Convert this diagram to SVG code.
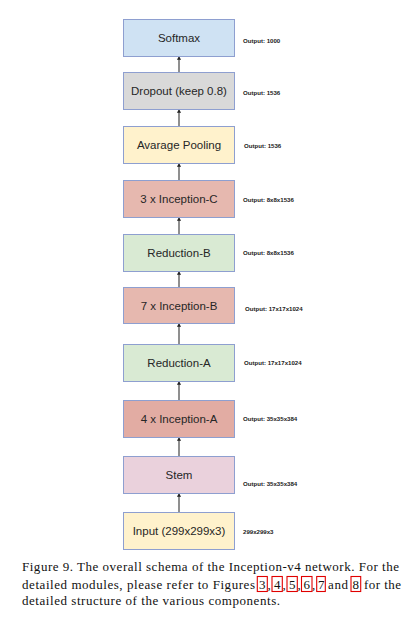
<svg xmlns="http://www.w3.org/2000/svg" width="409" height="618" viewBox="0 0 409 618">
<defs>
<marker id="ah" viewBox="0 0 6 8" refX="6" refY="4" markerWidth="3.2" markerHeight="4.2" orient="auto" markerUnits="userSpaceOnUse">
<path d="M0,0 L6,4 L0,8 z" fill="#222"/>
</marker>
<style>
.box{stroke:#8e9fd0;stroke-width:1}
.lbl{font-family:"Liberation Sans",Arial,sans-serif;font-size:11.5px;fill:#262626;text-anchor:middle}
.out{font-family:"Liberation Sans",Arial,sans-serif;font-size:6.1px;font-weight:bold;fill:#1a1a1a}
.conn{stroke:#333;stroke-width:1.1;fill:none;marker-end:url(#ah)}
.cap{font-family:"Liberation Serif","Times New Roman",serif;font-size:13px;fill:#111}
.ref{fill:none;stroke:#e00000;stroke-width:1.1}
</style>
</defs>
<rect width="409" height="618" fill="#fff"/>
<g id="connectors">
<path class="conn" d="M179,72 V56.5"/>
<path class="conn" d="M179,126 V109.5"/>
<path class="conn" d="M179,180 V163.5"/>
<path class="conn" d="M179,234 V217.5"/>
<path class="conn" d="M179,287 V271.5"/>
<path class="conn" d="M179,344 V323.5"/>
<path class="conn" d="M179,400 V381.5"/>
<path class="conn" d="M179,456 V437.5"/>
<path class="conn" d="M179,512 V493.5"/>
</g>
<g id="softmax"><rect class="box" x="123.5" y="19.5" width="111" height="37" fill="#cfe2f3"/><text class="lbl" x="179" y="42">Softmax</text><text class="out" x="243" y="43">Output: 1000</text></g>
<g id="dropout"><rect class="box" x="123.5" y="72.5" width="111" height="37" fill="#d9d9d9"/><text class="lbl" x="179" y="95">Dropout (keep 0.8)</text><text class="out" x="243" y="95">Output: 1536</text></g>
<g id="pooling"><rect class="box" x="123.5" y="126.5" width="111" height="37" fill="#fff2cc"/><text class="lbl" x="179" y="149">Avarage Pooling</text><text class="out" x="244" y="148">Output: 1536</text></g>
<g id="inception-c"><rect class="box" x="123.5" y="180.5" width="111" height="37" fill="#e6b8af"/><text class="lbl" x="179" y="203">3 x Inception-C</text><text class="out" x="243" y="202">Output: 8x8x1536</text></g>
<g id="reduction-b"><rect class="box" x="123.5" y="234.5" width="111" height="37" fill="#d9ead3"/><text class="lbl" x="179" y="257">Reduction-B</text><text class="out" x="243" y="255">Output: 8x8x1536</text></g>
<g id="inception-b"><rect class="box" x="123.5" y="287.5" width="111" height="36" fill="#e6b8af"/><text class="lbl" x="179" y="310">7 x Inception-B</text><text class="out" x="245" y="311">Output: 17x17x1024</text></g>
<g id="reduction-a"><rect class="box" x="123.5" y="344.5" width="111" height="37" fill="#d9ead3"/><text class="lbl" x="179" y="367">Reduction-A</text><text class="out" x="244" y="365">Output: 17x17x1024</text></g>
<g id="inception-a"><rect class="box" x="123.5" y="400.5" width="111" height="37" fill="#e2aca3"/><text class="lbl" x="179" y="423">4 x Inception-A</text><text class="out" x="243" y="421">Output: 35x35x384</text></g>
<g id="stem"><rect class="box" x="123.5" y="456.5" width="111" height="37" fill="#ead1dc"/><text class="lbl" x="179" y="479">Stem</text><text class="out" x="243" y="486">Output: 35x35x384</text></g>
<g id="input"><rect class="box" x="123.5" y="512.5" width="111" height="37" fill="#fff2cc"/><text class="lbl" x="179" y="535">Input (299x299x3)</text><text class="out" x="243" y="534">299x299x3</text></g>
<g id="caption">
<text class="cap" x="22" y="571" textLength="377" lengthAdjust="spacing">Figure 9. The overall schema of the Inception-v4 network. For the</text>
<text class="cap" y="588.5"><tspan x="22" textLength="233" lengthAdjust="spacing">detailed modules, please refer to Figures</tspan><tspan x="259">3</tspan><tspan x="267.5">,</tspan><tspan x="274">4</tspan><tspan x="282.5">,</tspan><tspan x="289">5</tspan><tspan x="297.5">,</tspan><tspan x="303.5">6</tspan><tspan x="312">,</tspan><tspan x="318">7</tspan><tspan x="328" textLength="20" lengthAdjust="spacing">and</tspan><tspan x="352.5">8</tspan><tspan x="364" textLength="37" lengthAdjust="spacing">for the</tspan></text>
<text class="cap" x="22" y="605" textLength="258" lengthAdjust="spacing">detailed structure of the various components.</text>
<rect class="ref" x="257.3" y="576.5" width="10" height="15"/>
<rect class="ref" x="272" y="576.5" width="10.3" height="15"/>
<rect class="ref" x="287" y="576.5" width="10.3" height="15"/>
<rect class="ref" x="301.5" y="576.5" width="10.5" height="15"/>
<rect class="ref" x="316.7" y="576.5" width="8.6" height="15"/>
<rect class="ref" x="351" y="576.5" width="9.7" height="15"/>
</g>
</svg>
